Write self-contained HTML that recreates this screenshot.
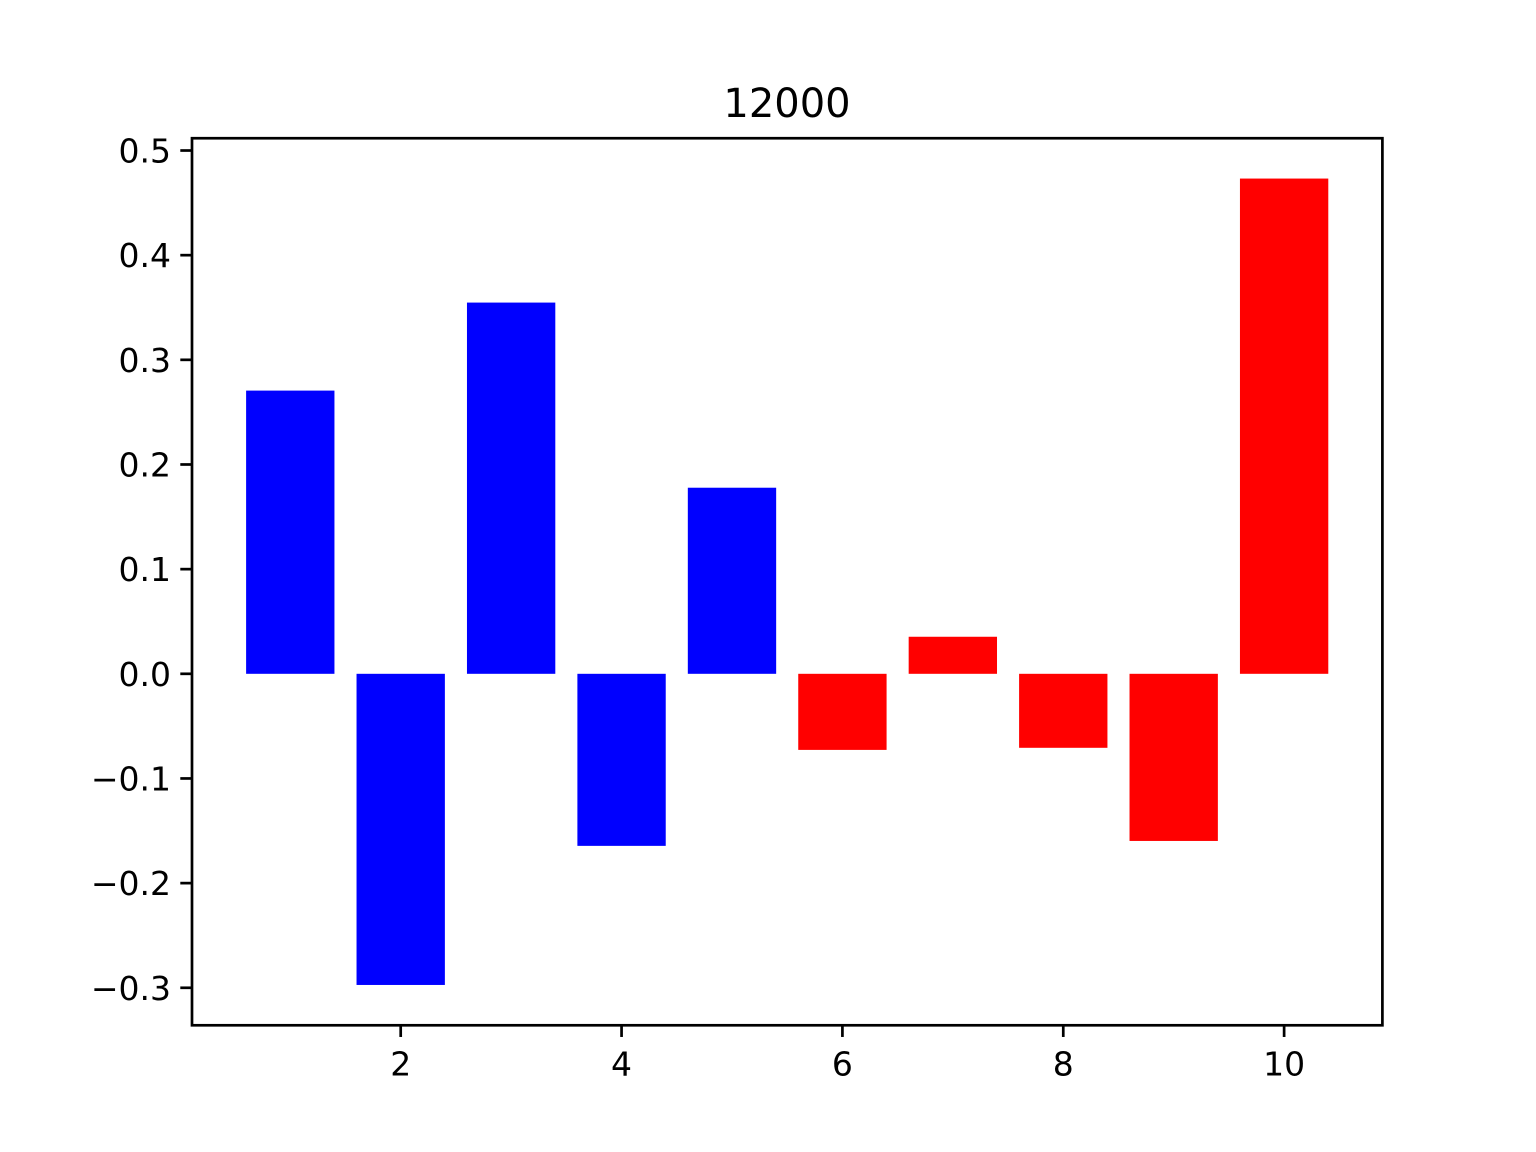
<!DOCTYPE html>
<html><head><meta charset="utf-8"><style>html,body{margin:0;padding:0;background:#fff}svg{display:block}text{font-family:"DejaVu Sans","Liberation Sans",sans-serif;fill:#000}</style></head>
<body>
<svg id="chart" width="1536" height="1152" xmlns="http://www.w3.org/2000/svg">
<rect width="1536" height="1152" fill="#fff"/>
<text x="787" y="117" font-size="40" text-anchor="middle">12000</text>
<g id="bars"></g>
<g id="axes"></g>
</svg>
<script>
const categories = [1,2,3,4,5,6,7,8,9,10];
const values = [0.2706,-0.2973,0.3547,-0.1644,0.1778,-0.0727,0.0354,-0.0707,-0.1597,0.4732];
const colors = ['blue','blue','blue','blue','blue','red','red','red','red','red'];
const yTicks = [-0.3,-0.2,-0.1,0.0,0.1,0.2,0.3,0.4,0.5];
const yTickLabels = ['\u22120.3','\u22120.2','\u22120.1','0.0','0.1','0.2','0.3','0.4','0.5'];
const xTicks = [2,4,6,8,10];
const xTickLabels = ['2','4','6','8','10'];

const L=192,R=1382.4,T=138.24,B=1025.28,bw=0.8;
const vmin=Math.min(0,...values),vmax=Math.max(0,...values),m=(vmax-vmin)*0.05;
const y0=vmin-m,y1=vmax+m;
const c0=categories[0]-bw/2,c1=categories[categories.length-1]+bw/2,cm=(c1-c0)*0.05;
const x0=c0-cm,x1=c1+cm;
const sx=v=>L+(v-x0)/(x1-x0)*(R-L);
const sy=v=>B-(v-y0)/(y1-y0)*(B-T);
const NS='http://www.w3.org/2000/svg';
const bars=document.getElementById('bars'),axes=document.getElementById('axes');
function mk(tag,attrs,parent){const e=document.createElementNS(NS,tag);for(const k in attrs)e.setAttribute(k,attrs[k]);parent.appendChild(e);return e;}
categories.forEach((c,i)=>{
  const v=values[i];
  const r=mk('rect',{x:sx(c-bw/2),y:Math.min(sy(v),sy(0)),width:sx(c+bw/2)-sx(c-bw/2),height:Math.abs(sy(v)-sy(0)),fill:colors[i]},bars);
  
  
});
const frame=mk('rect',{x:L,y:T,width:R-L,height:B-T,fill:'none',stroke:'#000','stroke-width':2.7},axes);


yTicks.forEach((t,i)=>{
  const y=sy(t);
  const l=mk('line',{x1:L,x2:L-11.7,y1:y,y2:y,stroke:'#000','stroke-width':2.7},axes);
  
  
  const tx=mk('text',{x:L-21,y:y+12,'font-size':33,'text-anchor':'end'},axes);
  tx.textContent=yTickLabels[i];
  
  
});
xTicks.forEach((t,i)=>{
  const x=sx(t);
  const l=mk('line',{x1:x,x2:x,y1:B,y2:B+11.7,stroke:'#000','stroke-width':2.7},axes);
  
  
  const tx=mk('text',{x:x,y:B+50,'font-size':33,'text-anchor':'middle'},axes);
  tx.textContent=xTickLabels[i];
  
  
});
</script>
</body></html>
